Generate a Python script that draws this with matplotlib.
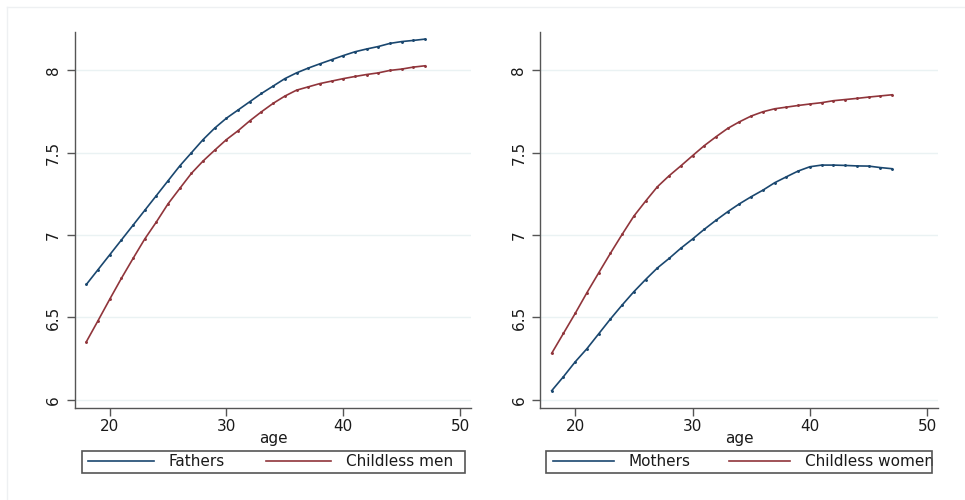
import matplotlib
matplotlib.use("Agg")
import matplotlib.pyplot as plt
from matplotlib.lines import Line2D
from matplotlib.patches import Rectangle

plt.rcParams['font.family'] = ['DejaVu Sans']

ages = list(range(18, 48))

fathers = [6.70, 6.79, 6.88, 6.97, 7.06, 7.15, 7.24, 7.33, 7.42, 7.50,
           7.58, 7.65, 7.71, 7.76, 7.81, 7.86, 7.905, 7.95, 7.985, 8.014,
           8.04, 8.065, 8.09, 8.113, 8.13, 8.145, 8.164, 8.175, 8.182, 8.19]
childless_men = [6.352, 6.48, 6.61, 6.737, 6.858, 6.976, 7.08, 7.19, 7.283, 7.375,
                 7.45, 7.516, 7.58, 7.634, 7.694, 7.749, 7.80, 7.844, 7.88, 7.90,
                 7.92, 7.935, 7.95, 7.963, 7.975, 7.985, 8.0, 8.008, 8.02, 8.028]
mothers = [6.055, 6.14, 6.23, 6.31, 6.40, 6.49, 6.575, 6.656, 6.73, 6.80,
           6.858, 6.92, 6.976, 7.035, 7.09, 7.142, 7.19, 7.233, 7.273, 7.318,
           7.354, 7.389, 7.415, 7.425, 7.425, 7.423, 7.42, 7.419, 7.41, 7.403]
childless_women = [6.282, 6.403, 6.524, 6.65, 6.77, 6.889, 7.004, 7.115, 7.206, 7.293,
                   7.36, 7.42, 7.482, 7.543, 7.597, 7.648, 7.688, 7.723, 7.749, 7.767,
                   7.777, 7.787, 7.796, 7.804, 7.816, 7.823, 7.83, 7.838, 7.845, 7.852]

x_ticks = [20, 30, 40, 50]
y_ticks = [6, 6.5, 7, 7.5, 8]
y_ticklabels = ['6', '6.5', '7', '7.5', '8']

BLUE = '#1a476f'
RED = '#90353b'
W, H = 965, 500
FS = 11

fig = plt.figure(figsize=(W / 100, H / 100), dpi=100)
fig.patch.set_facecolor('white')

# faint outer frame
fig.add_artist(Line2D([7 / W, 1], [1 - 7 / H, 1 - 7 / H], color='#eef0f2', lw=1))
fig.add_artist(Line2D([7 / W, 7 / W], [0, 1 - 7 / H], color='#eef0f2', lw=1))

panels = [
    # axes left/right px, series, labels, legend box px, legend content px, handle length
    (75, 471, fathers, childless_men, ['Fathers', 'Childless men'], (81.7, 465), (88, 453), 4.3),
    (540.3, 938.3, mothers, childless_women, ['Mothers', 'Childless women'], (546.3, 931.7), (553, 934), 4.0),
]

for (xl, xr, s1, s2, labels, (bx0, bx1), (cx0, cx1), hl) in panels:
    ax = fig.add_axes([xl / W, 1 - 408 / H, (xr - xl) / W, (408 - 31.7) / H])
    ax.set_xlim(17.03, 50.94)
    ax.set_ylim(5.95, 8.235)
    for yv in y_ticks:
        ax.axhline(yv, color='#eaf2f3', lw=1.0, zorder=0)
    l1, = ax.plot(ages, s1, color=BLUE, lw=1.2, marker='o', ms=1.1, zorder=3)
    l2, = ax.plot(ages, s2, color=RED, lw=1.2, marker='o', ms=1.1, zorder=3)
    ax.set_xticks(x_ticks)
    ax.set_yticks(y_ticks)
    ax.set_yticklabels(y_ticklabels, rotation=90, va='center')
    ax.tick_params(axis='both', direction='out', length=6, width=1, color='#555555',
                   labelsize=FS, labelcolor='#1a1a1a')
    ax.tick_params(axis='x', pad=2)
    ax.tick_params(axis='y', pad=4)
    for s in ['top', 'right']:
        ax.spines[s].set_visible(False)
    for s in ['left', 'bottom']:
        ax.spines[s].set_color('#555555')
        ax.spines[s].set_linewidth(1.0)
    ax.set_xlabel('age', fontsize=FS, color='#1a1a1a', labelpad=-2)

    # legend frame
    fig.add_artist(Rectangle((bx0 / W, 1 - 473.3 / H), (bx1 - bx0) / W, 22.6 / H,
                             transform=fig.transFigure, fill=False,
                             edgecolor='#555555', lw=1.2))
    leg = ax.legend([l1, l2], labels, ncol=2, mode='expand',
                    loc='center', bbox_to_anchor=(cx0 / W, 1 - 473.3 / H, (cx1 - cx0) / W, 22.6 / H),
                    bbox_transform=fig.transFigure, frameon=False,
                    fontsize=FS, handlelength=hl,
                    borderpad=0, handletextpad=0.95, columnspacing=1.0, borderaxespad=0)
    for t in leg.get_texts():
        t.set_color('#1a1a1a')
    for h in leg.legend_handles:
        h.set_marker('')

fig.savefig('out.png', dpi=100, facecolor='white')
